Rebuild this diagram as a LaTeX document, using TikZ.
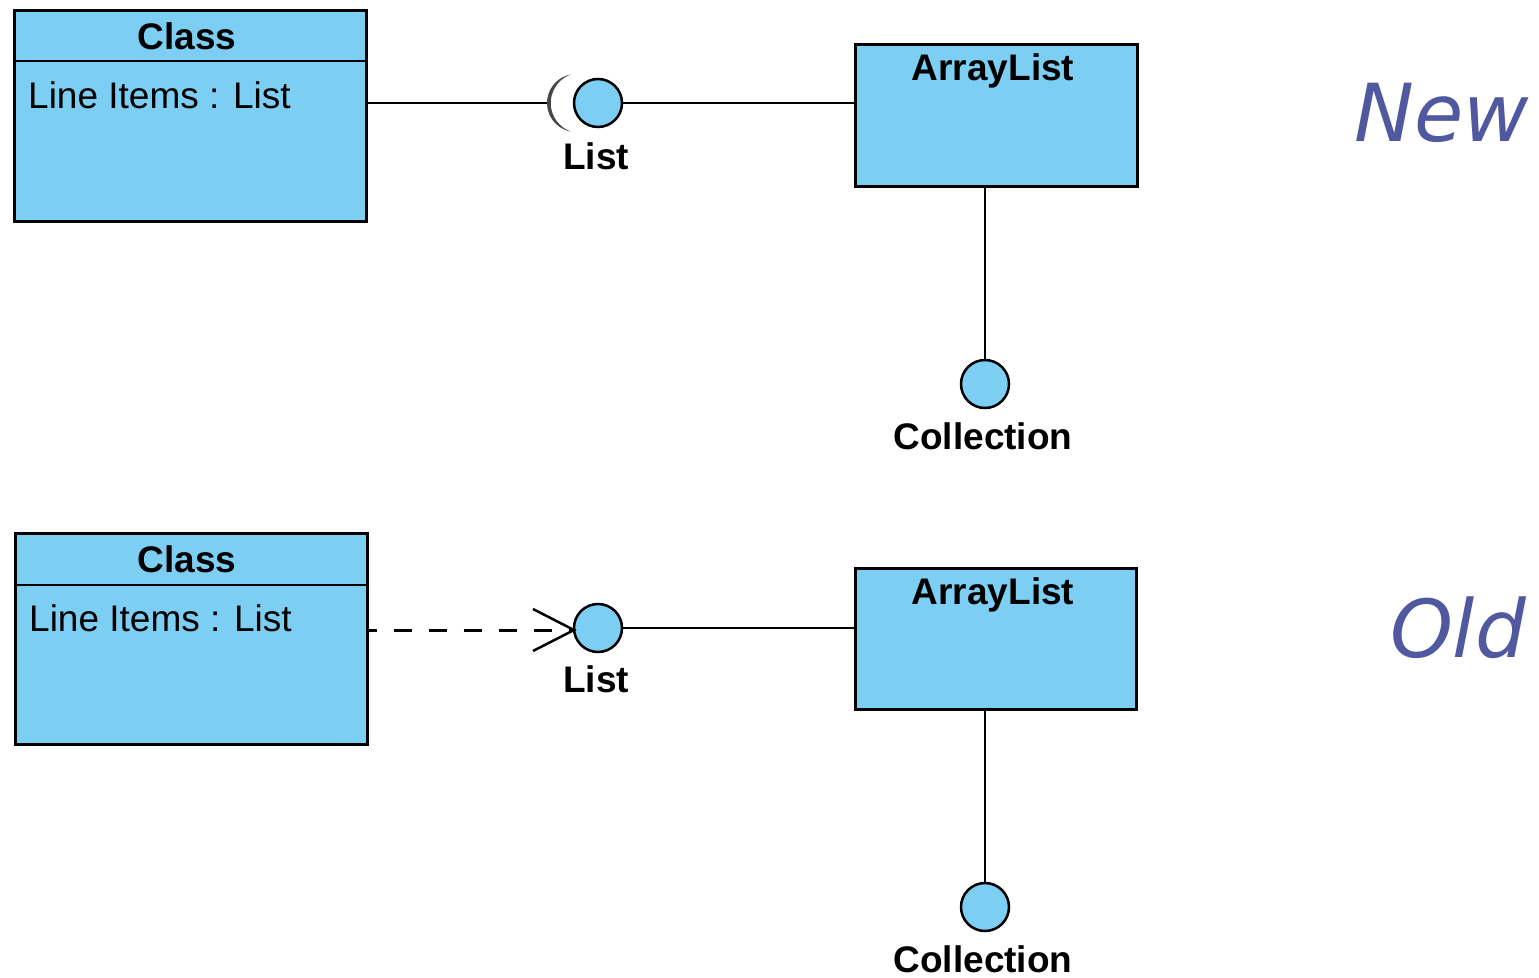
\documentclass[tikz,border=0pt]{standalone}
\usepackage{fontspec}
\setmainfont{Liberation Sans}
\newfontfamily\tagfont{DejaVu Sans}
\definecolor{umlfill}{RGB}{125,206,243}
\definecolor{tagblue}{RGB}{80,88,160}
\begin{document}
\begin{tikzpicture}[x=1pt,y=-1pt,
  umlbox/.style={draw=black,line width=2.5pt,fill=umlfill,anchor=north west,inner sep=0pt},
  lolli/.style={circle,draw=black,line width=2.5pt,fill=umlfill,minimum size=48pt,inner sep=0pt},
  conn/.style={line width=2.5pt},
  lbl/.style={font=\fontsize{37}{40}\selectfont\bfseries,inner sep=0pt},
  attr/.style={font=\fontsize{37}{40}\selectfont,anchor=base west,inner sep=0pt},
  tag/.style={font=\tagfont\itshape\fontsize{80}{90}\selectfont,text=tagblue,inner sep=0pt}]
\useasboundingbox (0,0) rectangle (1539,977);

% ---- upper diagram: required interface (socket) ----
\node[umlbox,minimum width=352pt,minimum height=211pt] (cls1) at (13,9) {};
\draw[line width=2.5pt] (13,61) -- (365,61);
\node[lbl] (cls1t) at (187,36) {Class};
\node[attr] (cls1a) at (28,108) {Line Items : List};

\node[umlbox,minimum width=282pt,minimum height=142pt] (arr1) at (854,43) {};
\node[lbl] (arr1t) at (993,71) {ArrayList};

\node[lolli] (lol1) at (598,103) {};
\node[lbl] (lol1t) at (596,156) {List};
\coordinate (sock1) at (549,103);
\draw[conn] (cls1.east |- sock1) -- (sock1);
% socket: crescent opening towards the ball
\fill[black!72] (576,103) ++(100:29) arc[start angle=100,end angle=260,radius=29]
  arc[start angle=250.6,end angle=109.4,radius=30.3] -- cycle;
\draw[conn] (lol1.east) -- (arr1.west |- lol1.east);

\node[lolli] (col1) at (985,384) {};
\node[lbl] (col1t) at (983,436) {Collection};
\draw[conn] (arr1.south -| col1) -- (col1.north);

\node[tag] (new) at (1442,113) {New};

% ---- lower diagram: dependency on interface ----
\node[umlbox,minimum width=352pt,minimum height=211pt] (cls2) at (14,532) {};
\draw[line width=2.5pt] (14,585) -- (366,585);
\node[lbl] (cls2t) at (187,559) {Class};
\node[attr] (cls2a) at (29,631) {Line Items : List};

\node[umlbox,minimum width=281pt,minimum height=141pt] (arr2) at (854,567) {};
\node[lbl] (arr2t) at (993,595) {ArrayList};

\node[lolli] (lol2) at (598,628) {};
\node[lbl] (lol2t) at (596,679) {List};
\coordinate (tip2) at (574,630);
\draw[line width=3pt,dash pattern=on 18pt off 17pt,dash phase=10pt] (cls2.east |- tip2) -- (tip2);
\draw[conn] (533,609) -- (tip2) -- (533,651);
\draw[conn] (lol2.east) -- (arr2.west |- lol2.east);

\node[lolli] (col2) at (985,907) {};
\node[lbl] (col2t) at (983,959) {Collection};
\draw[conn] (arr2.south -| col2) -- (col2.north);

\node[tag] (old) at (1458,628) {Old};
\end{tikzpicture}
\end{document}
